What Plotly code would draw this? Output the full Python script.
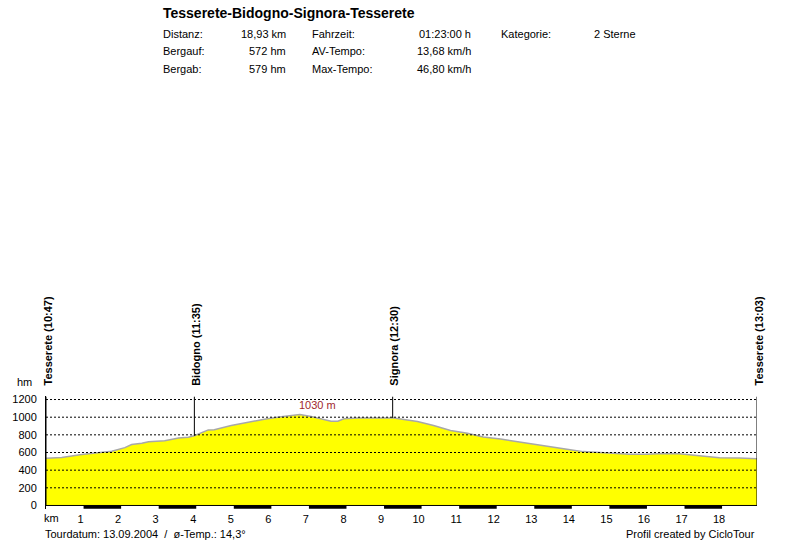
import numpy as np
import plotly.graph_objects as go

# ---------------- data ----------------
title_text = "Tesserete-Bidogno-Signora-Tesserete"
info_rows = [
    ["Distanz:", "18,93 km", "Fahrzeit:", "01:23:00 h", "Kategorie:", "2 Sterne"],
    ["Bergauf:", "572 hm", "AV-Tempo:", "13,68 km/h", "", ""],
    ["Bergab:", "579 hm", "Max-Tempo:", "46,80 km/h", "", ""],
]
km = [0.00, 0.42, 0.95, 1.49, 1.75, 2.10, 2.28, 2.55, 2.73, 3.16, 3.53, 3.79, 3.95,
      4.32, 4.48, 4.93, 5.38, 5.81, 6.26, 6.60, 6.76, 7.06, 7.32, 7.59, 7.77, 7.93,
      8.30, 8.83, 9.26, 9.44, 9.89, 10.32, 10.77, 11.22, 11.64, 12.10, 12.55, 12.97,
      13.42, 13.87, 14.30, 14.75, 15.54, 15.99, 16.42, 16.86, 17.32, 17.93, 18.46, 18.93]
elev = [535, 543, 578, 600, 615, 655, 690, 705, 722, 734, 765, 772, 790,
        856, 858, 905, 943, 977, 1005, 1025, 1030, 1007, 982, 955, 955, 982,
        990, 990, 992, 980, 950, 905, 850, 818, 775, 753, 723, 693,
        660, 636, 610, 600, 580, 580, 590, 585, 564, 540, 537, 528]
waypoint_km = [0.0, 3.95, 9.23, 18.93]
waypoint_names = ["Tesserete (10:47)", "Bidogno (11:35)", "Signora (12:30)", "Tesserete (13:03)"]
x_ticks = list(range(1, 19))
y_ticks = [0, 200, 400, 600, 800, 1000, 1200]
footer_left = "Tourdatum: 13.09.2004 \u00a0/\u00a0 ø-Temp.: 14,3°"
footer_right = "Profil created by CicloTour"

# ---------------- layout geometry ----------------
W, H = 800, 540
L, R, T, B = 44, 43, 396, 31
YMIN, YMAX = -40, 1240
FONT = "Arial, 'Liberation Sans', sans-serif"
PAD_L = 3  # compensation for annotation padding (left-anchored)
PAD_R = 1  # compensation for annotation padding (right-anchored)


def px2x(px):
    return (px - L) / (W - L - R)


def py2y(py):
    return (H - B - py) / (H - T - B)


fig = go.Figure()

fig.add_trace(go.Scatter(
    x=km, y=elev, mode="lines", fill="tozeroy",
    fillcolor="#FFFF00", line=dict(color="#A8A8A8", width=1.5),
    hoverinfo="skip", showlegend=False))

shapes = []
# dashed grid lines above the fill
for yv in y_ticks[1:]:
    shapes.append(dict(type="line", xref="paper", yref="y", x0=0, x1=1, y0=yv, y1=yv,
                       line=dict(color="black", width=1, dash="2px,2px"), layer="above"))
# base line
shapes.append(dict(type="line", xref="paper", yref="y", x0=0, x1=1, y0=0, y1=0,
                   line=dict(color="black", width=1), layer="above"))
# km bar
for k in range(1, int(max(km)) + 1, 2):
    shapes.append(dict(type="rect", xref="x", yref="y", x0=k, x1=min(k + 1, max(km)),
                       y0=-36, y1=0, fillcolor="black", line=dict(width=0), layer="above"))
# waypoint lines
for i, wk in enumerate(waypoint_km):
    base = 0 if i in (0, len(waypoint_km) - 1) else float(np.interp(wk, km, elev))
    shapes.append(dict(type="line", xref="x", yref="y", x0=wk, x1=wk, y0=base, y1=1232,
                       line=dict(color="black", width=1), layer="above"))

annotations = []
for wk, name in zip(waypoint_km, waypoint_names):
    annotations.append(dict(x=wk, y=YMAX, xref="x", yref="y", text="<b>" + name + "</b>",
                            textangle=-90, showarrow=False, xanchor="center", yanchor="bottom",
                            xshift=1, yshift=8, font=dict(family=FONT, size=11, color="black")))

# peak label
imax = int(np.argmax(elev))
annotations.append(dict(x=km[imax], y=1200, xref="x", yref="y", text=f"{elev[imax]} m",
                        showarrow=False, xanchor="center", yanchor="middle", xshift=18, yshift=-5,
                        font=dict(family=FONT, size=11, color="#A0282D")))

# axis unit labels
annotations.append(dict(x=px2x(22), y=py2y(381.5), xref="paper", yref="paper", text="hm",
                        showarrow=False, xanchor="center", yanchor="middle",
                        font=dict(family=FONT, size=11, color="black")))
annotations.append(dict(x=px2x(43 - PAD_L), y=py2y(518), xref="paper", yref="paper", text="km",
                        showarrow=False, xanchor="left", yanchor="middle",
                        font=dict(family=FONT, size=11, color="black")))
# footers
annotations.append(dict(x=px2x(44 - PAD_L), y=py2y(533.5), xref="paper", yref="paper", text=footer_left,
                        showarrow=False, xanchor="left", yanchor="middle",
                        font=dict(family=FONT, size=11, color="black")))
annotations.append(dict(x=px2x(756 + PAD_R), y=py2y(533.5), xref="paper", yref="paper", text=footer_right,
                        showarrow=False, xanchor="right", yanchor="middle",
                        font=dict(family=FONT, size=11, color="black")))

# header
annotations.append(dict(x=px2x(162 - PAD_L), y=py2y(13), xref="paper", yref="paper",
                        text="<b>" + title_text + "</b>", showarrow=False,
                        xanchor="left", yanchor="middle",
                        font=dict(family=FONT, size=14, color="black")))
col_x = [(162, "left"), (286, "right"), (312, "left"), (471, "right"), (501, "left"), (637, "right")]
row_y = [33.5, 51, 69]
for ri, row in enumerate(info_rows):
    for ci, txt in enumerate(row):
        if not txt:
            continue
        cx, anchor = col_x[ci]
        cx = cx - PAD_L if anchor == "left" else cx + PAD_R
        annotations.append(dict(x=px2x(cx), y=py2y(row_y[ri]), xref="paper", yref="paper",
                                text=txt, showarrow=False, xanchor=anchor, yanchor="middle",
                                font=dict(family=FONT, size=11, color="black")))

fig.update_layout(
    width=W, height=H, margin=dict(l=L, r=R, t=T, b=B, pad=0),
    paper_bgcolor="white", plot_bgcolor="white",
    showlegend=False, shapes=shapes, annotations=annotations,
    font=dict(family=FONT, size=11, color="black"),
    xaxis=dict(range=[0, max(km)], tickvals=x_ticks, ticktext=[str(v) for v in x_ticks],
               showgrid=False, zeroline=False, showline=False, ticks="",
               ticklabelshift=-3, ticklabelstandoff=2,
               tickfont=dict(family=FONT, size=11, color="black"), fixedrange=True),
    yaxis=dict(range=[YMIN, YMAX], tickvals=y_ticks, ticktext=[str(v) for v in y_ticks],
               showgrid=False, zeroline=False, showline=True, linecolor="black", linewidth=1,
               ticks="", ticklabelstandoff=6,
               tickfont=dict(family=FONT, size=11, color="black"), fixedrange=True),
)

fig.write_html("out.html")
